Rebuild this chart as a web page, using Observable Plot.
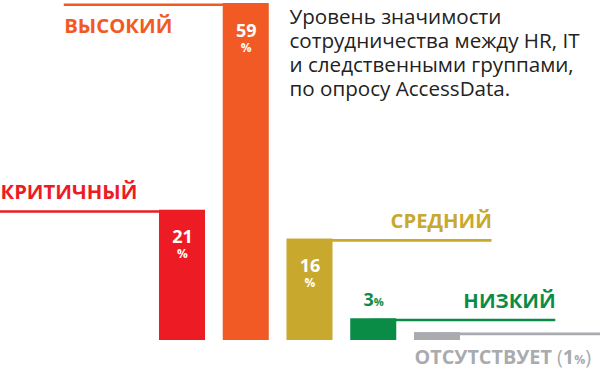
<!DOCTYPE html>
<html><head><meta charset="utf-8">
<script src="https://cdn.jsdelivr.net/npm/d3@7"></script>
<script src="https://cdn.jsdelivr.net/npm/@observablehq/plot@0.6"></script>
<style>
html,body{margin:0;padding:0;background:#fff;overflow:hidden}
#chart{width:600px;height:376px;overflow:hidden}
</style>
</head><body><div id="chart"></div>
<script>
// ---- data ----
const categories = ["КРИТИЧНЫЙ", "ВЫСОКИЙ", "СРЕДНИЙ", "НИЗКИЙ", "ОТСУТСТВУЕТ"];
const values = [21, 59, 16, 3, 1];
const colors = ["#ED1C24", "#F15A24", "#C9A82E", "#0B8C46", "#A9ABAE"];
const titleLines = ["Уровень значимости", "сотрудничества между HR, IT", "и следственными группами,", "по опросу AccessData."];

// ---- layout (not data) ----
const lineSide = [-1, -1, 1, 1, 1];                 // line runs left (-1) or right (+1) of the bar
const labelBaseline = [-11.5, 29.5, -11, -10.7, 31.7]; // px of label baseline relative to bar top
const labelSize = [20.3, 20.3, 20.3, 20.3, 19.8];
const labelAt = ["lineStart", "lineStart", "lineEnd", "lineEnd", "barStart"];
const valuePlacement = ["inside", "inside", "inside", "above", "inLabel"];
const HW = 0.361;  // half bar width (x units)
const LEN = 2.494; // line length (x units)

const rows = categories.map((c, i) => ({
  i, cat: c, value: values[i], color: colors[i], side: lineSide[i],
  label: valuePlacement[i] === "inLabel" ? `${c} (${values[i]}%)` : c
}));

const marks = [];
// connector lines
marks.push(Plot.ruleY(rows, {
  y: "value",
  x1: d => d.side < 0 ? d.i - HW - LEN : d.i,
  x2: d => d.side < 0 ? d.i : d.i + HW + LEN,
  stroke: "color", strokeWidth: 2.6, dy: 1.3
}));
// bars
marks.push(Plot.rectY(rows, {
  x1: d => d.i - HW, x2: d => d.i + HW, y1: 0, y2: "value", fill: "color"
}));
// category labels
rows.forEach((d, k) => {
  const at = labelAt[k];
  const fs = labelSize[k];
  marks.push(Plot.text([d], {
    x: at === "lineStart" ? r => r.i - HW - LEN : at === "lineEnd" ? r => r.i + HW + LEN : r => r.i - HW,
    y: "value", text: "label", fill: "color",
    textAnchor: at === "lineEnd" ? "end" : "start",
    fontSize: fs, fontWeight: "bold", fontFamily: "Open Sans",
    dy: labelBaseline[k] - 0.32 * fs
  }));
});
// value labels inside bars
const inside = rows.filter((d, k) => valuePlacement[k] === "inside");
marks.push(Plot.text(inside, {
  x: "i", y: "value", text: d => String(d.value), fill: "white",
  fontSize: 18, fontWeight: "bold", fontFamily: "Open Sans", dy: 33 - 0.32 * 18
}));
marks.push(Plot.text(inside, {
  x: "i", y: "value", text: d => "%", fill: "white",
  fontSize: 12, fontWeight: "bold", fontFamily: "Open Sans", dy: 48 - 0.32 * 12
}));
// value labels above bars
const above = rows.filter((d, k) => valuePlacement[k] === "above");
marks.push(Plot.text(above, {
  x: "i", y: "value", text: d => `${d.value}%`, fill: "color",
  fontSize: 18, fontWeight: "bold", fontFamily: "Open Sans", dy: -13 - 0.32 * 18
}));
// title
marks.push(Plot.text([titleLines.join("\n")], {
  frameAnchor: "top-left", text: d => d, textAnchor: "start", lineAnchor: "top",
  dx: 289, dy: 6, fontSize: 20.6, lineHeight: 1.175, fill: "#222", fontFamily: "Open Sans"
}));

const svg = Plot.plot({
  width: 600, height: 376,
  marginLeft: 0, marginRight: 0, marginTop: 0, marginBottom: 0,
  x: {type: "linear", domain: [-2.855, 6.557], range: [0, 600], axis: null},
  y: {type: "pow", exponent: 0.92, domain: [0, 59], range: [340, 3], axis: null},
  color: {type: "identity"},
  style: {background: "#fff", fontFamily: "Open Sans"},
  marks
});

// shrink "%" signs inside mixed labels (and lighten parentheses)
d3.select(svg).selectAll("text").each(function () {
  const el = this;
  if (el.querySelector("tspan")) return;
  const t = el.textContent;
  if (!t.includes("%") || t === "%") return;
  el.textContent = "";
  const parts = t.split(/([%()])/).filter(s => s !== "");
  parts.forEach(p => {
    const ts = document.createElementNS("http://www.w3.org/2000/svg", "tspan");
    ts.textContent = p;
    if (p === "%") ts.setAttribute("font-size", "0.62em");
    if (p === "(" || p === ")") ts.setAttribute("font-weight", "normal");
    el.appendChild(ts);
  });
});

document.getElementById("chart").appendChild(svg);
</script>
</body></html>
